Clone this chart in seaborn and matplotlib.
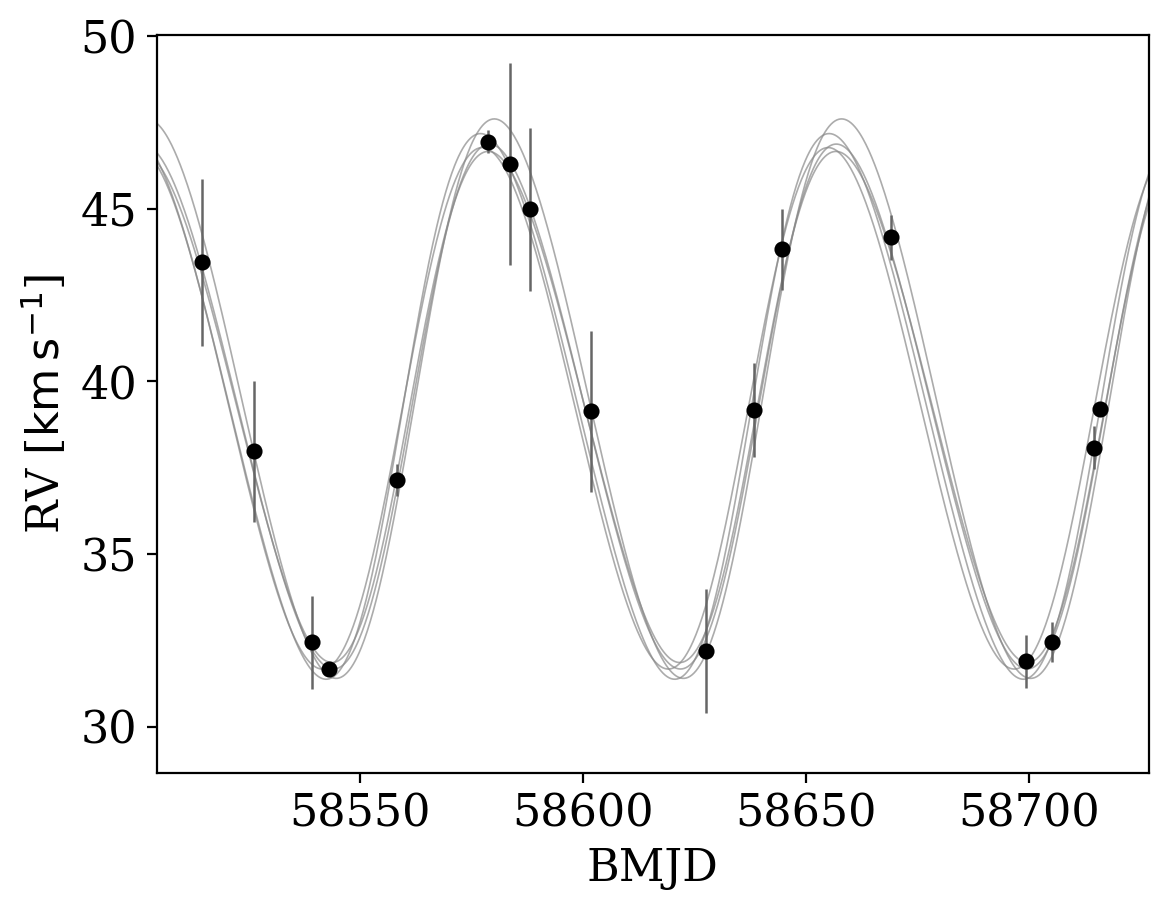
import numpy as np
import pandas as pd
import seaborn as sns
import matplotlib
matplotlib.use('Agg')
import matplotlib.pyplot as plt

# observed radial velocities
bmjd = [58514.65, 58526.3, 58539.3, 58543.0, 58558.4, 58578.8, 58583.7, 58588.2,
        58601.75, 58627.7, 58638.3, 58644.6, 58669.1, 58699.3, 58705.2, 58714.6, 58715.9]
rv = [43.45, 37.97, 32.44, 31.67, 37.14, 46.94, 46.29, 44.98,
      39.13, 32.19, 39.17, 43.83, 44.17, 31.89, 32.44, 38.08, 39.19]
rv_err = [2.42, 2.04, 1.34, 0.15, 0.46, 0.33, 2.92, 2.35,
          2.33, 1.80, 1.35, 1.17, 0.66, 0.78, 0.58, 0.62, 0.15]

# orbit samples (keplerian params)
period = [77.9, 78.2, 77.8, 77.6, 78.0]
semi_amp = [8.1, 7.9, 7.6, 7.55, 7.4]
ecc = [0.07, 0.09, 0.08, 0.06, 0.08]
omega_deg = [270, 268, 272, 270, 266]
t_peri = [58640.3, 58637.5, 58639.8, 58637.1, 58638.4]
v0 = [39.5, 39.3, 39.25, 39.22, 39.3]

xlim = (58504.4, 58727.0)
ylim = (28.65, 50.03)


def kepler_rv(t, P, K, e, w, tp, g):
    M = 2 * np.pi * (t - tp) / P
    E = M.copy()
    for i in range(30):
        E = E - (E - e * np.sin(E) - M) / (1 - e * np.cos(E))
    nu = 2 * np.arctan2(np.sqrt(1 + e) * np.sin(E / 2), np.sqrt(1 - e) * np.cos(E / 2))
    w = np.radians(w)
    return g + K * (np.cos(nu + w) + e * np.cos(w))


t_grid = np.linspace(xlim[0], xlim[1], 1000)
frames = []
for i in range(len(period)):
    frames.append(pd.DataFrame({
        't': t_grid,
        'rv': kepler_rv(t_grid, period[i], semi_amp[i], ecc[i], omega_deg[i], t_peri[i], v0[i]),
        'sample': i}))
curves = pd.concat(frames)

sns.set_style('ticks')
plt.rcParams['font.family'] = ['DejaVu Serif']
plt.rcParams['text.color'] = 'k'
plt.rcParams['axes.labelcolor'] = 'k'
plt.rcParams['xtick.color'] = 'k'
plt.rcParams['ytick.color'] = 'k'

fig = plt.figure(figsize=(1169 / 200, 911 / 200), dpi=200)
ax = fig.add_axes([0.134, 0.1511, 0.8489, 0.8105])

sns.lineplot(data=curves, x='t', y='rv', units='sample', estimator=None,
             color='#888888', alpha=0.7, linewidth=0.6, ax=ax, legend=False)
ax.errorbar(bmjd, rv, yerr=rv_err, fmt='o', color='k', ecolor='#666666',
            markersize=4.8, elinewidth=0.9, capsize=0, zorder=10)

ax.set_xlim(xlim)
ax.set_ylim(ylim)
ax.set_xticks([58550, 58600, 58650, 58700])
ax.set_yticks([30, 35, 40, 45, 50])
ax.tick_params(labelsize=16, length=3.5, width=0.8, colors='k')
for s in ax.spines.values():
    s.set_color('k')
    s.set_linewidth(0.8)
ax.set_xlabel('BMJD', fontsize=16)
ax.set_ylabel(r'RV [$\mathrm{km\,s^{-1}}$]', fontsize=16)

fig.savefig('out.png', dpi=200)
